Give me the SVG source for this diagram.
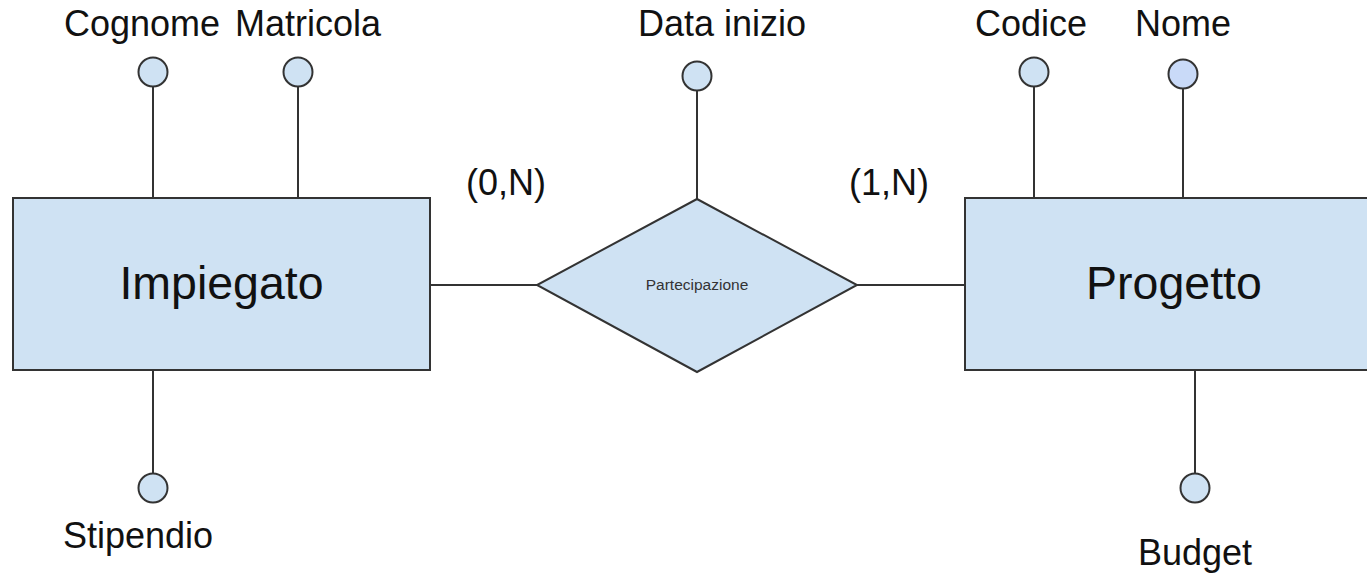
<svg xmlns="http://www.w3.org/2000/svg" width="1367" height="573" viewBox="0 0 1367 573">
<style>
.ent{fill:#cfe2f3;stroke:#333;stroke-width:2}
.attr{fill:#cfe2f3;stroke:#333;stroke-width:2}
.ln{stroke:#333;stroke-width:2;fill:none}
.lbl{font-family:"Liberation Sans",Arial,sans-serif;font-size:36px;fill:#111}
.big{font-family:"Liberation Sans",Arial,sans-serif;font-size:46.5px;fill:#111}
.sm{font-family:"Liberation Sans",Arial,sans-serif;font-size:15.5px;fill:#333}
</style>
<rect width="1367" height="573" fill="#fff"/>
<g id="connectors">
<line class="ln" x1="153" y1="87" x2="153" y2="198"/>
<line class="ln" x1="298" y1="87" x2="298" y2="198"/>
<line class="ln" x1="153" y1="370" x2="153" y2="473"/>
<line class="ln" x1="430" y1="285" x2="537" y2="285"/>
<line class="ln" x1="857" y1="285" x2="965" y2="285"/>
<line class="ln" x1="697" y1="91" x2="697" y2="199"/>
<line class="ln" x1="1034" y1="87" x2="1034" y2="198"/>
<line class="ln" x1="1183" y1="89" x2="1183" y2="198"/>
<line class="ln" x1="1195" y1="370" x2="1195" y2="473"/>
<text class="lbl" x="506" y="195" text-anchor="middle">(0,N)</text>
<text class="lbl" x="889" y="195" text-anchor="middle">(1,N)</text>
</g>
<g id="impiegato">
<rect class="ent" x="13" y="198" width="417" height="172"/>
<text class="big" x="221.5" y="299" text-anchor="middle">Impiegato</text>
</g>
<g id="progetto">
<rect class="ent" x="965" y="198" width="420" height="172"/>
<text class="big" x="1174" y="299" text-anchor="middle">Progetto</text>
</g>
<g id="partecipazione">
<polygon class="ent" points="697,199 857,285 697,372 537,285"/>
<text class="sm" x="697" y="290" text-anchor="middle">Partecipazione</text>
</g>
<g id="cognome">
<circle class="attr" cx="153" cy="72" r="14.5"/>
<text class="lbl" x="142" y="36" text-anchor="middle">Cognome</text>
</g>
<g id="matricola">
<circle class="attr" cx="298" cy="72" r="14.5"/>
<text class="lbl" x="308" y="36" text-anchor="middle">Matricola</text>
</g>
<g id="stipendio">
<circle class="attr" cx="153" cy="488" r="14.5"/>
<text class="lbl" x="138" y="548" text-anchor="middle">Stipendio</text>
</g>
<g id="data-inizio">
<circle class="attr" cx="697" cy="76" r="14.5"/>
<text class="lbl" x="722" y="36" text-anchor="middle">Data inizio</text>
</g>
<g id="codice">
<circle class="attr" cx="1034" cy="72" r="14.5"/>
<text class="lbl" x="1031" y="36" text-anchor="middle">Codice</text>
</g>
<g id="nome">
<circle cx="1183" cy="74" r="14.5" fill="#c9daf8" stroke="#333" stroke-width="2"/>
<text class="lbl" x="1183" y="36" text-anchor="middle">Nome</text>
</g>
<g id="budget">
<circle class="attr" cx="1195" cy="488" r="14.5"/>
<text class="lbl" x="1195" y="565" text-anchor="middle">Budget</text>
</g>
</svg>
